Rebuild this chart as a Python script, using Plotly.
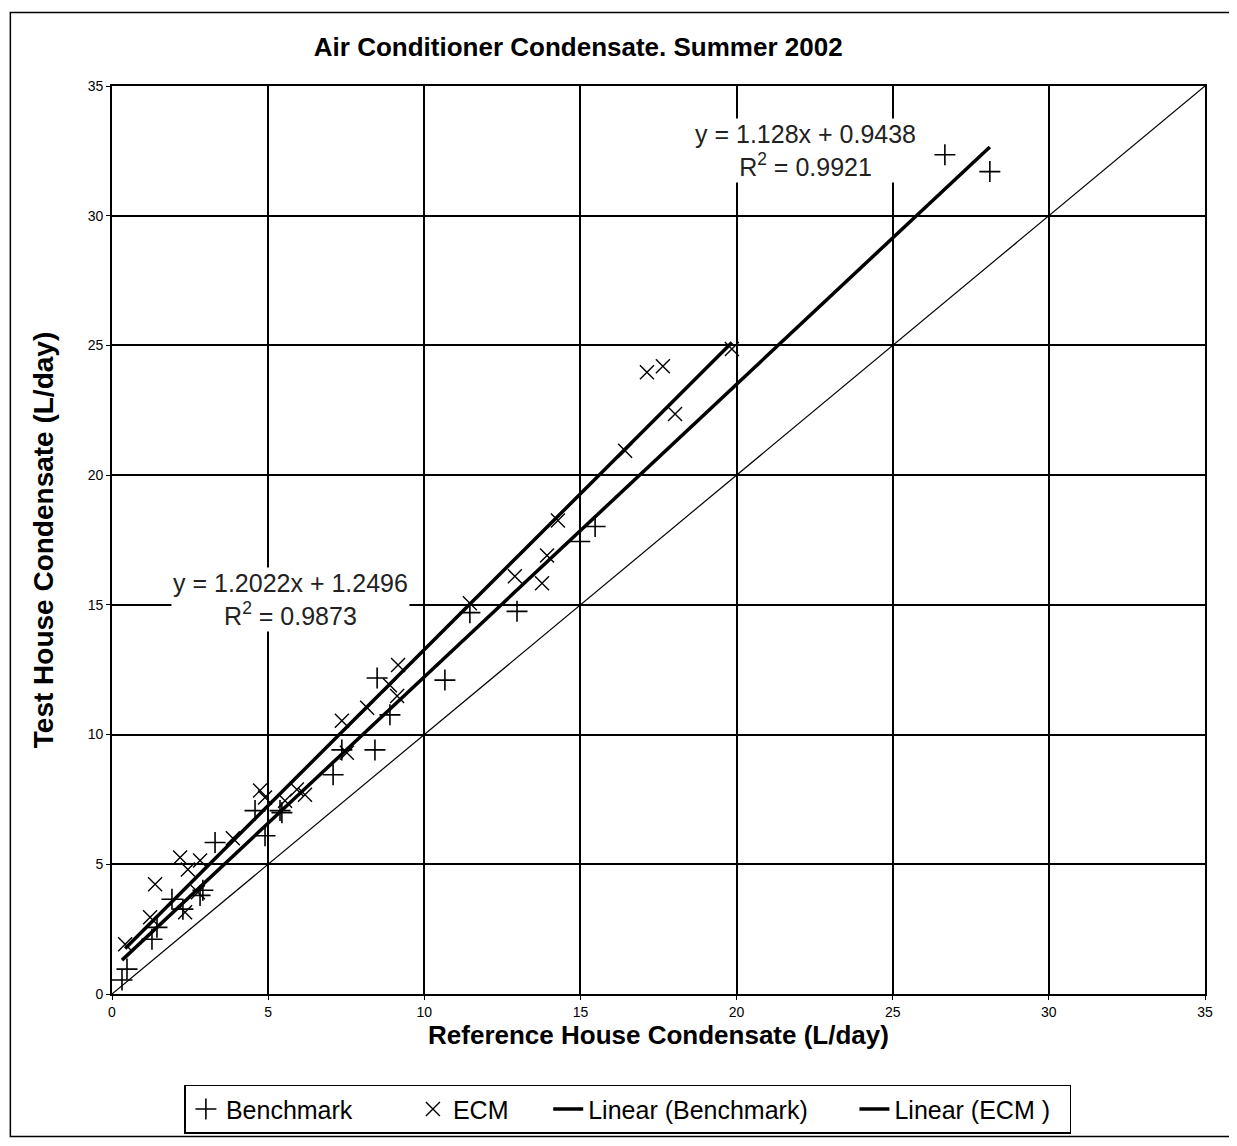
import plotly.graph_objects as go

# Benchmark (+) points, L/day
bench_ref = [0.32, 0.48, 1.28, 1.44, 1.92, 2.27, 2.82, 2.91, 3.3, 4.58, 4.9, 5.38, 5.44,
             7.08, 7.36, 8.42, 8.9, 8.49, 10.66, 11.46, 12.97, 14.98, 15.47, 26.67, 28.11]
bench_test = [0.54, 0.96, 2.11, 2.57, 3.65, 3.27, 3.8, 4.0, 5.84, 7.07, 6.1, 7.07, 6.99,
              8.45, 9.41, 9.41, 10.76, 12.18, 12.1, 14.7, 14.75, 17.44, 18.02, 32.35, 31.7]

# ECM (x) points, L/day
ecm_ref = [0.42, 1.22, 1.38, 2.18, 2.43, 2.82, 2.34, 2.75, 3.87, 4.74, 4.9, 5.54, 5.92, 6.18,
           7.36, 7.52, 8.17, 8.9, 9.13, 9.16, 11.46, 12.9, 13.77, 13.93, 14.28, 16.43,
           17.13, 17.64, 18.03, 19.85]
ecm_test = [1.92, 2.96, 4.23, 5.26, 4.8, 5.15, 3.15, 3.92, 6.0, 7.84, 7.57, 7.45, 7.88, 7.68,
            10.53, 9.3, 11.03, 11.9, 11.49, 12.68, 15.06, 16.1, 15.83, 16.9, 18.25, 20.94,
            23.97, 24.2, 22.36, 24.86]

# linear fits [benchmark, ecm]
fit_slope = [1.128, 1.2022]
fit_intercept = [0.9438, 1.2496]
fit_r2 = [0.9921, 0.9873]

axis_max = 35
ticks = [0, 5, 10, 15, 20, 25, 30, 35]

narrow = "Liberation Sans Narrow, Arial Narrow, Liberation Sans, Arial"
NB = "\u00a0"


def fit_line(xs, m, b):
    x0, x1 = min(xs), max(xs)
    return [x0, x1], [m * x0 + b, m * x1 + b]


fig = go.Figure()

fig.add_trace(go.Scatter(x=bench_ref, y=bench_test, mode='markers', name='Benchmark' + NB * 8,
                         marker=dict(symbol='cross-thin', size=15,
                                     line=dict(color='black', width=1.6))))
fig.add_trace(go.Scatter(x=ecm_ref, y=ecm_test, mode='markers', name='ECM' + NB * 5,
                         marker=dict(symbol='x-thin', size=14,
                                     line=dict(color='black', width=1.4))))

bx, by = fit_line(bench_ref, fit_slope[0], fit_intercept[0])
fig.add_trace(go.Scatter(x=bx, y=by, mode='lines', name='Linear (Benchmark)' + NB * 6,
                         line=dict(color='black', width=3.5)))
ex, ey = fit_line(ecm_ref, fit_slope[1], fit_intercept[1])
fig.add_trace(go.Scatter(x=ex, y=ey, mode='lines', name='Linear (ECM )' + NB * 2,
                         line=dict(color='black', width=3.5)))

# 1:1 line
fig.add_trace(go.Scatter(x=[0, axis_max], y=[0, axis_max], mode='lines', showlegend=False,
                         line=dict(color='black', width=1.2), hoverinfo='skip'))

fig.add_annotation(x=22.2, y=32.5, xref='x', yref='y', showarrow=False,
                   text=f"y = {fit_slope[0]}x + {fit_intercept[0]}<br>R<sup>2</sup> = {fit_r2[0]}",
                   font=dict(family=narrow, size=25, color='#222'), bgcolor='white',
                   align='center')
fig.add_annotation(x=5.7, y=15.2, xref='x', yref='y', showarrow=False,
                   text=f"y = {fit_slope[1]}x + {fit_intercept[1]}<br>R<sup>2</sup> = {fit_r2[1]}",
                   font=dict(family=narrow, size=25, color='#222'), bgcolor='white',
                   align='center')

# outer frame
fig.add_shape(type='rect', xref='paper', yref='paper', x0=-0.093, x1=1.027, y0=-0.157, y1=1.081,
              line=dict(color='black', width=1.5), layer='below')

axis_common = dict(range=[0, axis_max], tickvals=ticks, showgrid=True, gridcolor='black',
                   gridwidth=1.7, zeroline=False, showline=True, linecolor='black', linewidth=1.7,
                   mirror=True, ticks='outside', ticklen=4, tickcolor='black',
                   tickfont=dict(family='Liberation Sans, Arial', size=14, color='black'))

fig.update_xaxes(**axis_common,
                 title=dict(text='<b>Reference House Condensate (L/day)</b>', standoff=0,
                            font=dict(family=narrow, size=26, color='black')))
fig.update_yaxes(**axis_common,
                 title=dict(text='<b>Test House Condensate (L/day)</b>', standoff=26,
                            font=dict(family=narrow, size=28, color='black')))

# page body adds 8px offset, so the figure is drawn 8px smaller
fig.update_layout(
    width=1229, height=1138,
    margin=dict(l=104, r=32, t=78, b=149),
    paper_bgcolor='white', plot_bgcolor='white',
    title=dict(text='<b>Air Conditioner Condensate. Summer 2002</b>', x=0.464, xanchor='center',
               y=0.966, yanchor='middle', font=dict(family=narrow, size=26, color='black')),
    legend=dict(orientation='h', x=0.472, xanchor='center', y=-0.1, yanchor='top',
                bordercolor='black', borderwidth=1.5, bgcolor='white',
                font=dict(family=narrow, size=25, color='black'),
                itemwidth=30, tracegroupgap=0),
    showlegend=True,
)

fig.write_html("out.html")
